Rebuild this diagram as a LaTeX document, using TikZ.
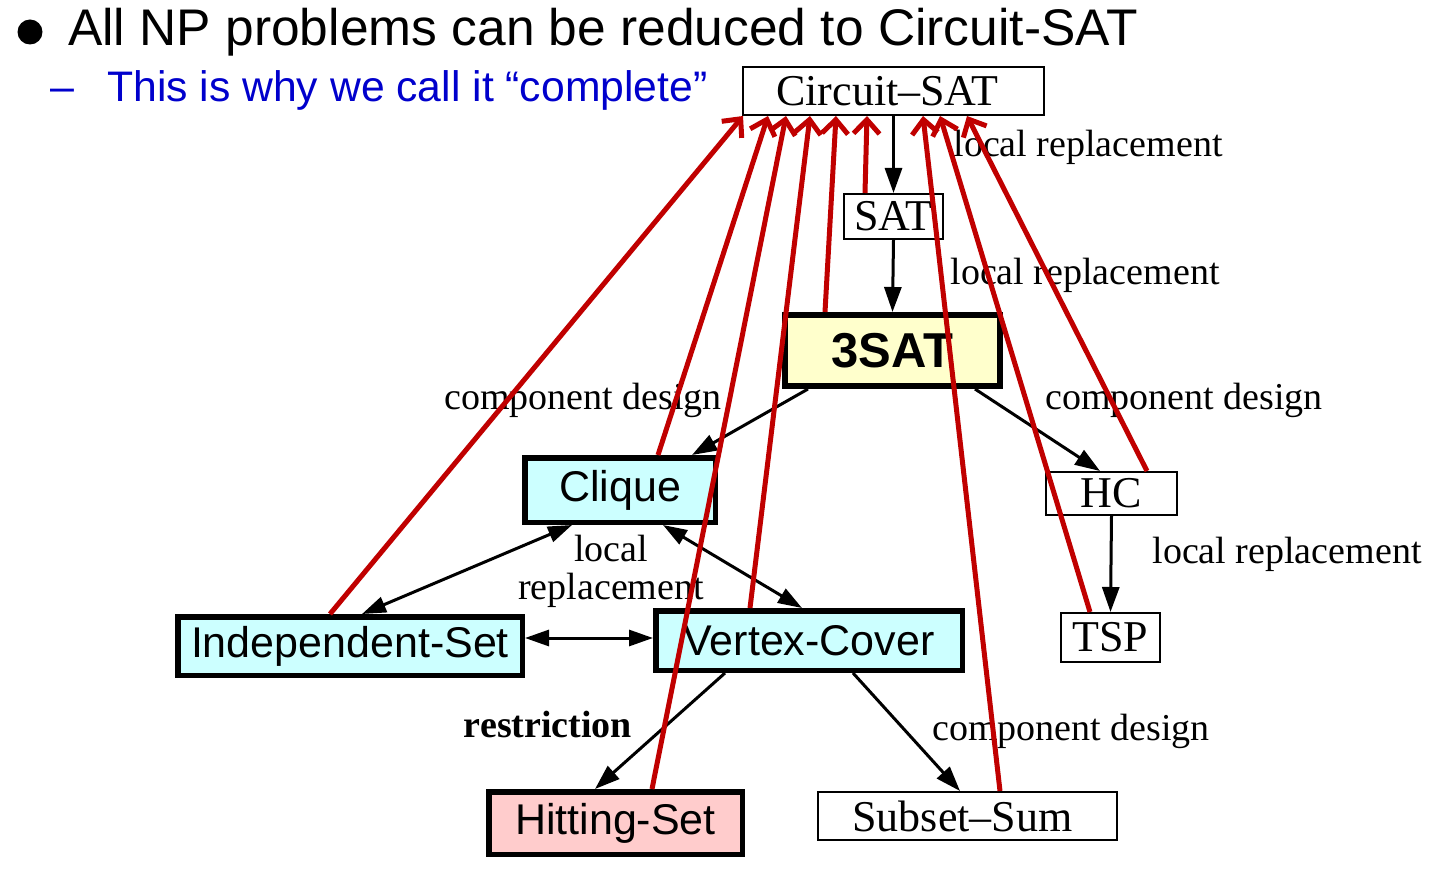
\documentclass[tikz,border=0pt]{standalone}
\usepackage{fontspec}
\setmainfont{Liberation Serif}
\setsansfont{Liberation Sans}
\usetikzlibrary{arrows.meta,calc}
\definecolor{redarr}{RGB}{192,0,0}
\definecolor{cyanfill}{RGB}{204,255,255}
\definecolor{yelfill}{RGB}{255,255,204}
\definecolor{pinkfill}{RGB}{255,204,204}
\definecolor{bluetext}{RGB}{0,0,204}
\newcommand\myfs[1]{\fontsize{#1pt}{#1pt}\selectfont}
\begin{document}
\begin{tikzpicture}[x=1pt,y=-1pt,
  thinbox/.style={draw, line width=2pt, inner sep=0pt, font=\myfs{44}},
  thickbox/.style={draw, line width=5.5pt, inner sep=0pt, font=\sffamily\myfs{43}},
  lbl/.style={inner sep=0pt, font=\myfs{38}},
  blk/.style={line width=3pt, -{Triangle[length=25pt,width=17pt]}},
  blkboth/.style={line width=3pt, {Triangle[length=24pt,width=16pt]}-{Triangle[length=24pt,width=16pt]}},
  redarrow/.style={line width=5pt, draw=redarr, -{Straight Barb[length=14pt,width=26pt]}}
]
\useasboundingbox (0,0) rectangle (1444,869);

% header
\fill (30,32) circle (12.5);
\node[anchor=base west, inner sep=0pt, font=\sffamily\myfs{51.5}] (h1) at (68,46) {All NP problems can be reduced to Circuit-SAT};
\node[anchor=base west, inner sep=0pt, font=\sffamily\myfs{43}, text=bluetext] (h2d) at (50,102) {–};
\node[anchor=base west, inner sep=0pt, font=\sffamily\myfs{42.7}, text=bluetext] (h2) at (107,102) {This is why we call it “complete”};

% nodes
\node[thinbox, minimum width=301pt, minimum height=48pt] (cs) at (893.5,91) {\hspace*{-12pt}Circuit–SAT};
\node[thinbox, minimum width=99pt, minimum height=45pt] (sat) at (893.5,216.5) {SAT};
\node[draw, line width=6pt, inner sep=0pt, fill=yelfill, font=\sffamily\bfseries\myfs{49}, minimum width=215pt, minimum height=71pt] (tsat) at (892.5,350.5) {3SAT};
\node[thickbox, fill=cyanfill, minimum width=190.5pt, minimum height=64.5pt] (clique) at (620,490) {Clique};
\node[thinbox, minimum width=131pt, minimum height=43pt] (hc) at (1111.5,493.5) {HC};
\node[thinbox, minimum width=99pt, minimum height=49pt] (tsp) at (1110.5,637.5) {TSP};
\node[thickbox, fill=cyanfill, minimum width=344.5pt, minimum height=58.5pt] (is) at (350,646) {Independent-Set};
\node[thickbox, fill=cyanfill, minimum width=306.5pt, minimum height=59.5pt] (vc) at (809,640.5) {Vertex-Cover};
\node[thickbox, fill=pinkfill, minimum width=253.5pt, minimum height=62.5pt] (hs) at (615.5,823) {Hitting-Set};
\node[thinbox, minimum width=299pt, minimum height=48pt] (ss) at (967.5,816) {\hspace*{-10pt}Subset–Sum};

% labels
\node[lbl] (l1) at (1088,147) {local replacement};
\node[lbl] (l2) at (1085,275) {local replacement};
\node[lbl] (l3) at (583,400) {component design};
\node[lbl] (l4) at (1184,400) {component design};
\node[lbl, align=center] (l5) at (611,571) {local\\replacement};
\node[lbl] (l6) at (1287,554) {local replacement};
\node[lbl, font=\bfseries\myfs{38}] (l7) at (548,724) {restriction};
\node[lbl] (l8) at (1071,731) {component design};

% black reductions
\draw[blk] (cs.south) -- (sat.north);
\draw[blk] (sat.south) -- (tsat.north);
\draw[blk] ($(tsat.south)+(-84.5,0)$) -- ($(clique.north)+(72,0)$);
\draw[blk] ($(tsat.south)+(82.5,0)$) -- ($(hc.north)+(-11.5,0)$);
\draw[blk] (hc.south) -- (tsp.north);
\draw[blkboth] ($(clique.south)+(-48,0)$) -- ($(is.north)+(12,0)$);
\draw[blkboth] ($(clique.south)+(43,0)$) -- ($(vc.north)+(-7,0)$);
\draw[blkboth] ($(is.east)+(0,-8)$) -- ($(vc.west)+(0,-2.5)$);
\draw[blk] ($(vc.south)+(-84,0)$) -- ($(hs.north)+(-20.5,0)$);
\draw[blk] ($(vc.south)+(44,0)$) -- ($(ss.north)+(-7.5,0)$);

% red reductions to Circuit-SAT
\draw[redarrow] ($(is.north)+(-20,0)$) -- ($(cs.south west)+(1,0)$);
\draw[redarrow] ($(clique.north)+(38,0)$) -- ($(cs.south west)+(26,0)$);
\draw[redarrow] ($(hs.north)+(36.5,0)$) -- ($(cs.south west)+(44,0)$);
\draw[redarrow] ($(vc.north)+(-59,0)$) -- ($(cs.south west)+(68,0)$);
\draw[redarrow] ($(tsat.north)+(-67.5,0)$) -- ($(cs.south west)+(94,0)$);
\draw[redarrow] ($(sat.north)+(-28.5,0)$) -- ($(cs.south west)+(125,0)$);
\draw[redarrow] ($(ss.north)+(32.5,0)$) -- ($(cs.south west)+(181,0)$);
\draw[redarrow] ($(tsp.north)+(-20.5,0)$) -- ($(cs.south west)+(198,0)$);
\draw[redarrow] ($(hc.north)+(35.5,0)$) -- ($(cs.south west)+(225,0)$);
\end{tikzpicture}
\end{document}
